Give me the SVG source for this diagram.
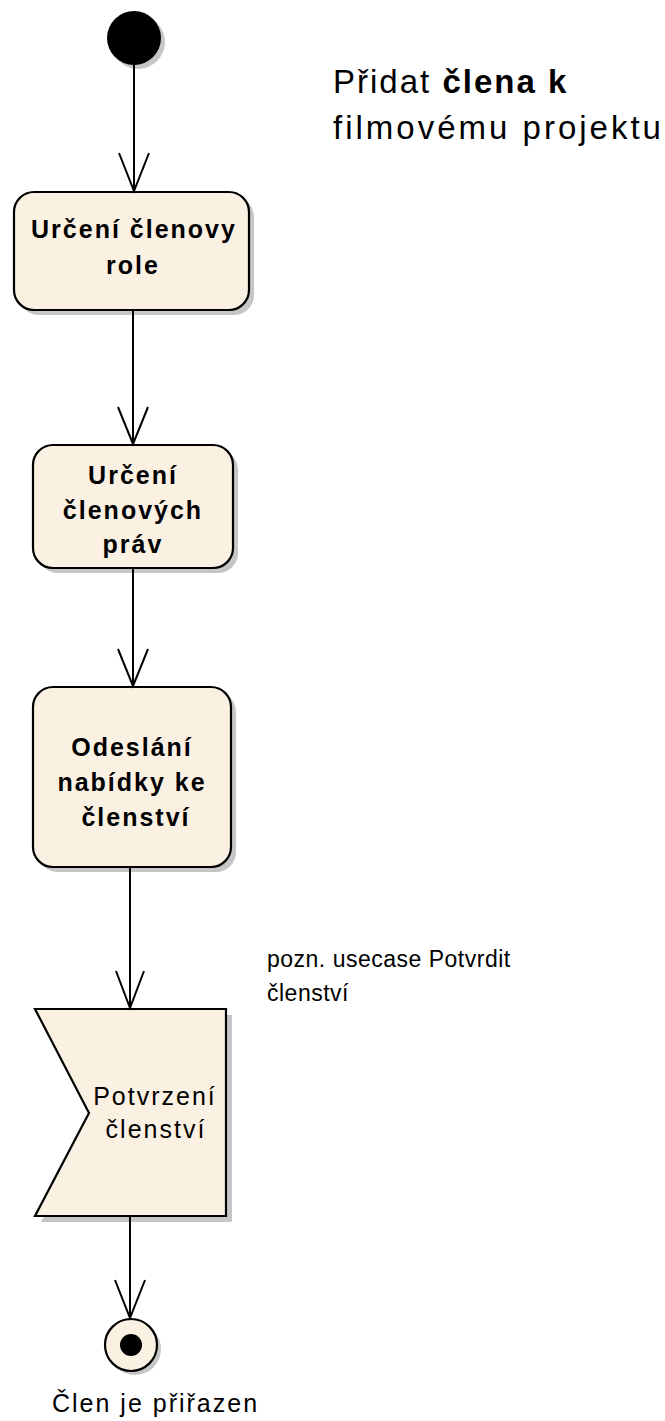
<svg xmlns="http://www.w3.org/2000/svg" width="665" height="1421" viewBox="0 0 665 1421">
  <style>
    .shadow { fill: #C6C6C6; stroke: none; }
    .node { fill: #FBF1E3; stroke: #000; stroke-width: 2.2; }
    .edge { fill: none; stroke: #000; stroke-width: 2; }
    .lbl { font-family: "Liberation Sans", Arial, sans-serif; fill: #000; }
    .bold { font-weight: bold; font-size: 25px; letter-spacing: 2px; text-anchor: middle; }
    .reg { font-size: 25px; letter-spacing: 2px; }
  </style>
  <rect width="665" height="1421" fill="#FFFFFF"/>

  <g id="title">
    <text class="lbl" x="333" y="93" font-size="33" letter-spacing="2">Přidat <tspan font-weight="bold">člena k</tspan></text>
    <text class="lbl" x="333" y="139" font-size="33" letter-spacing="3">filmovému projektu</text>
  </g>

  <g id="start">
    <circle class="shadow" cx="138" cy="42" r="27"/>
    <circle cx="134" cy="38" r="27" fill="#000"/>
  </g>

  <g id="urceni-role">
    <rect class="shadow" x="19" y="197" width="235" height="118" rx="20"/>
    <rect class="node" x="14" y="192" width="235" height="118" rx="20"/>
    <text class="lbl bold" x="134" y="238">Určení členovy</text>
    <text class="lbl bold" x="133" y="274">role</text>
  </g>

  <g id="urceni-prav">
    <rect class="shadow" x="38" y="450" width="200" height="123" rx="20"/>
    <rect class="node" x="33" y="445" width="200" height="123" rx="20"/>
    <text class="lbl bold" x="133" y="484">Určení</text>
    <text class="lbl bold" x="133" y="519">členových</text>
    <text class="lbl bold" x="133" y="553">práv</text>
  </g>

  <g id="odeslani">
    <rect class="shadow" x="38" y="692" width="198" height="180" rx="20"/>
    <rect class="node" x="33" y="687" width="198" height="180" rx="20"/>
    <text class="lbl bold" x="132" y="756">Odeslání</text>
    <text class="lbl bold" x="132" y="791">nabídky ke</text>
    <text class="lbl bold" x="136" y="826">členství</text>
  </g>

  <g id="potvrzeni">
    <polygon class="shadow" points="41,1015 232,1015 232,1222 41,1222 95,1119"/>
    <polygon class="node" points="35,1009 226,1009 226,1216 35,1216 89,1113"/>
    <text class="lbl reg" x="155" y="1105" text-anchor="middle">Potvrzení</text>
    <text class="lbl reg" x="156" y="1138" text-anchor="middle">členství</text>
  </g>

  <g id="note">
    <text class="lbl" x="267" y="967" font-size="23" letter-spacing="0.5">pozn. usecase Potvrdit</text>
    <text class="lbl" x="267" y="1001" font-size="23" letter-spacing="0.5">členství</text>
  </g>

  <g id="end">
    <circle class="shadow" cx="135" cy="1349" r="26"/>
    <circle class="node" cx="131" cy="1345" r="26"/>
    <circle cx="131" cy="1345" r="11" fill="#000"/>
    <text class="lbl" x="52" y="1412" font-size="25" letter-spacing="2">Člen je přiřazen</text>
  </g>

  <g id="connectors">
    <line class="edge" x1="134" y1="65" x2="134" y2="191"/>
    <polyline class="edge" points="119,153 134,191 149,153"/>
    <line class="edge" x1="133" y1="311" x2="133" y2="444"/>
    <polyline class="edge" points="118,407 133,444 148,407"/>
    <line class="edge" x1="133" y1="569" x2="133" y2="686"/>
    <polyline class="edge" points="118,649 133,686 148,649"/>
    <line class="edge" x1="130" y1="868" x2="130" y2="1008"/>
    <polyline class="edge" points="116,971 130,1008 144,971"/>
    <line class="edge" x1="130" y1="1217" x2="130" y2="1318"/>
    <polyline class="edge" points="115,1280 130,1318 145,1280"/>
  </g>
</svg>
